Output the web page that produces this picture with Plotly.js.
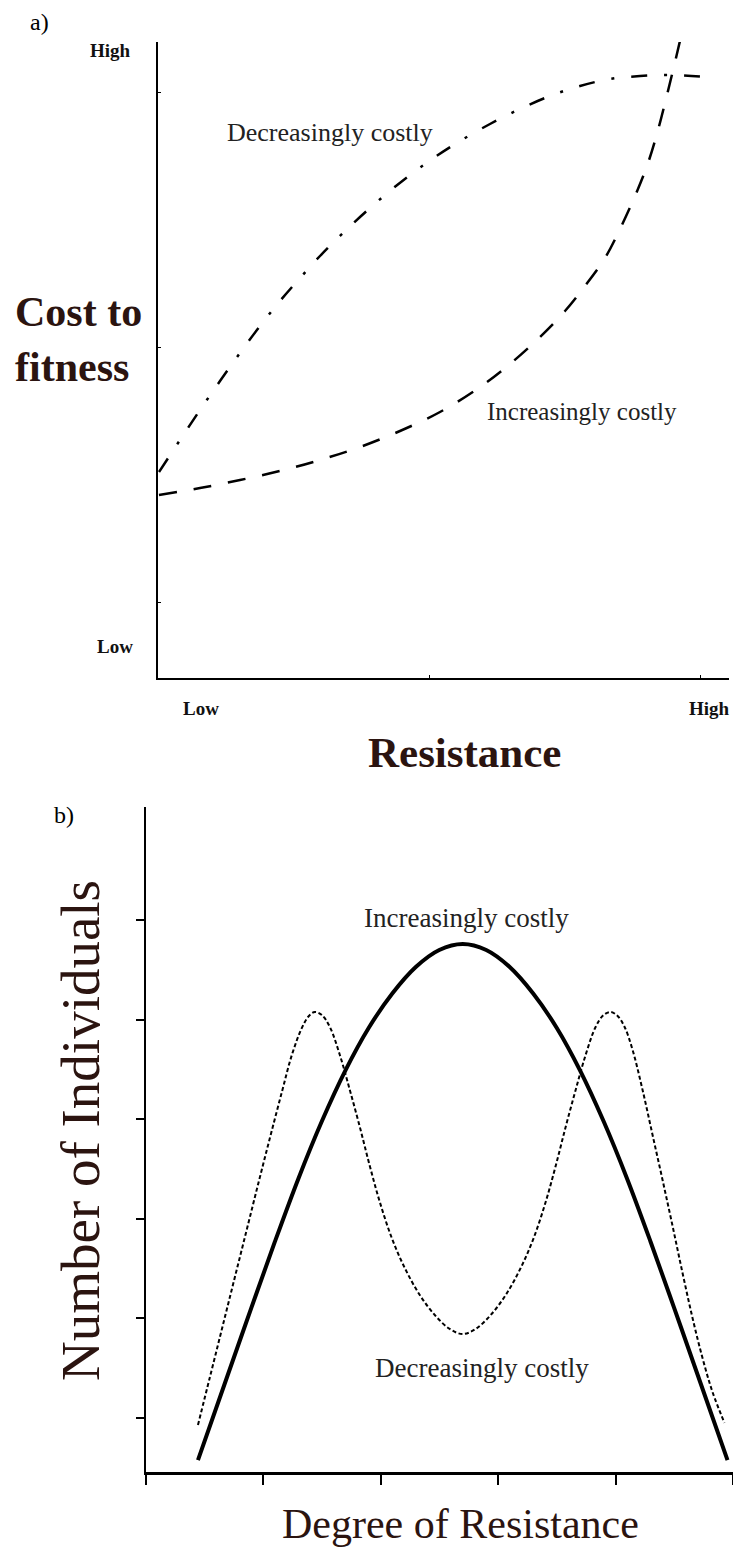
<!DOCTYPE html>
<html>
<head>
<meta charset="utf-8">
<script src="https://cdn.plot.ly/plotly-3.0.1.min.js"></script>
<style>
  html, body { margin: 0; padding: 0; background: #ffffff; }
  #chart { width: 733px; height: 1551px; }
</style>
</head>
<body>
<div id="chart"></div>
<script>
// ---------- Panel a: cost to fitness vs resistance (arbitrary units) ----------
const aDecX = [0.18, 4.06, 7.75, 11.44, 15.13, 18.82, 22.51, 26.20, 29.89, 33.58, 37.27, 41.88, 46.49, 51.11, 55.72, 61.25, 66.79, 72.32, 77.86, 83.39, 88.93, 94.46, 101.29];
const aDecY = [32.39, 37.42, 42.14, 46.70, 51.10, 55.35, 59.28, 62.89, 66.35, 69.50, 72.48, 75.94, 79.09, 81.92, 84.43, 87.11, 89.47, 91.51, 93.08, 94.18, 94.65, 94.81, 94.50];
const aIncX = [0.18, 7.75, 15.13, 22.51, 29.89, 37.27, 44.65, 52.03, 59.41, 64.94, 70.48, 75.09, 78.78, 82.47, 85.24, 88.01, 90.41, 92.25, 93.91, 95.39, 96.86];
const aIncY = [28.77, 29.87, 31.13, 32.55, 34.28, 36.32, 38.84, 41.82, 45.75, 49.37, 53.62, 57.70, 61.64, 66.04, 70.60, 75.79, 80.97, 86.16, 91.67, 96.86, 102.2];
const aXTicks = [0, 50, 100];
const aYTicks = [11.8, 52, 92];

// ---------- Panel b: number of individuals vs degree of resistance ----------
const bIncX = [0.4426, 0.6979, 0.8979, 1.0979, 1.2979, 1.4979, 1.6979, 1.8979, 2.0979, 2.2979, 2.4979, 2.6979, 2.8979, 3.0979, 3.2979, 3.4979, 3.6979, 3.8979, 4.0979, 4.2979, 4.4979, 4.6979, 4.9532];
const bIncY = [0.578, 1.437, 2.108, 2.770, 3.403, 3.979, 4.488, 4.918, 5.262, 5.528, 5.699, 5.759, 5.699, 5.528, 5.262, 4.918, 4.488, 3.979, 3.403, 2.770, 2.108, 1.437, 0.578];
const bDecX = [0.4426, 0.5447, 0.6468, 0.7489, 0.8511, 0.9532, 1.0553, 1.1574, 1.2426, 1.3277, 1.3872, 1.4383, 1.4979, 1.5660, 1.6511, 1.7362, 1.8213, 1.9064, 1.9915, 2.0936, 2.2043, 2.3319, 2.4596, 2.5872, 2.6979, 2.8085, 2.9362, 3.0638, 3.1915, 3.3021, 3.4043, 3.4894, 3.5745, 3.6596, 3.7447, 3.8298, 3.8979, 3.9574, 4.0170, 4.0766, 4.1447, 4.2298, 4.3149, 4.4000, 4.4851, 4.5702, 4.6553, 4.7404, 4.8255, 4.9277];
const bDecY = [0.930, 1.412, 1.894, 2.376, 2.857, 3.339, 3.811, 4.273, 4.645, 4.916, 5.036, 5.076, 5.046, 4.926, 4.645, 4.293, 3.922, 3.530, 3.169, 2.807, 2.506, 2.235, 2.034, 1.894, 1.843, 1.894, 2.034, 2.235, 2.506, 2.807, 3.169, 3.530, 3.922, 4.293, 4.645, 4.926, 5.046, 5.076, 5.036, 4.926, 4.695, 4.293, 3.841, 3.390, 2.928, 2.456, 2.004, 1.602, 1.261, 0.950];
const bXTicks = [0, 1, 2, 3, 4, 5];
const bYTicks = [1, 2, 3, 4, 5, 6];

const SERIF = '"Liberation Serif", "Times New Roman", serif';
const BROWN = '#2b1410';
const INK = '#222222';

const traces = [
  { x: aDecX, y: aDecY, xaxis: 'x', yaxis: 'y', mode: 'lines', name: 'Decreasingly costly',
    line: { color: '#000', width: 2.5, dash: '16px,17px,3px,17px', shape: 'spline', smoothing: 1, simplify: false }, hoverinfo: 'skip' },
  { x: aIncX, y: aIncY, xaxis: 'x', yaxis: 'y', mode: 'lines', name: 'Increasingly costly',
    line: { color: '#000', width: 2.5, dash: '18px,17px', shape: 'spline', smoothing: 1, simplify: false }, hoverinfo: 'skip' },
  { x: bIncX, y: bIncY, xaxis: 'x2', yaxis: 'y2', mode: 'lines', name: 'Increasingly costly',
    line: { color: '#000', width: 4, shape: 'spline', smoothing: 1, simplify: false }, hoverinfo: 'skip' },
  { x: bDecX, y: bDecY, xaxis: 'x2', yaxis: 'y2', mode: 'lines', name: 'Decreasingly costly',
    line: { color: '#000', width: 2, dash: '4px,2.5px', shape: 'spline', smoothing: 1, simplify: false }, hoverinfo: 'skip' }
];

const W = 733, H = 1551;
const px = v => v / W;
const py = v => 1 - v / H;

const axA = { showline: true, linecolor: '#000', linewidth: 2, ticks: 'inside', ticklen: 3, tickwidth: 1,
  tickcolor: '#000', showticklabels: false, showgrid: false, zeroline: false, fixedrange: true };
const axB = { showline: true, linecolor: '#000', linewidth: 2.5, ticks: 'outside', tickwidth: 2,
  tickcolor: '#000', showticklabels: false, showgrid: false, zeroline: false, fixedrange: true };

function ann(text, x, y, size, opts) {
  return Object.assign({ text: text, x: x, y: y, xref: 'paper', yref: 'paper', showarrow: false,
    xanchor: 'center', yanchor: 'middle', font: { family: SERIF, size: size, color: INK } }, opts || {});
}

const annotations = [
  ann('a)', px(39), py(22), 24, { font: { family: SERIF, size: 24, color: '#000' } }),
  ann('<b>High</b>', px(133), py(50), 19, { xanchor: 'right', font: { family: SERIF, size: 19, color: '#111' } }),
  ann('<b>Low</b>', px(135), py(647), 19, { xanchor: 'right', font: { family: SERIF, size: 19, color: '#111' } }),
  ann('<b>Low</b>', px(201), py(708), 19, { font: { family: SERIF, size: 19, color: '#111' } }),
  ann('<b>High</b>', px(709), py(708), 19, { font: { family: SERIF, size: 19, color: '#111' } }),
  ann('<b>Cost to<br>fitness</b>', px(13), py(340), 42, { xanchor: 'left', align: 'left', font: { family: SERIF, size: 42, color: BROWN } }),
  ann('<b>Resistance</b>', px(465), py(752), 43, { font: { family: SERIF, size: 43, color: BROWN } }),
  ann('Decreasingly costly', px(330), py(132), 26),
  ann('Increasingly costly', px(582), py(411), 25),
  ann('b)', px(64), py(815), 24, { font: { family: SERIF, size: 24, color: '#000' } }),
  ann('Number of Individuals', px(80), py(1131), 55, { textangle: -90, font: { family: SERIF, size: 55, color: BROWN } }),
  ann('Increasingly costly', px(466), py(918), 27),
  ann('Decreasingly costly', px(482), py(1368), 27),
  ann('Degree of Resistance', px(460), py(1524), 42, { font: { family: SERIF, size: 42, color: BROWN } })
];

const layout = {
  width: W, height: H,
  margin: { l: 0, r: 0, t: 0, b: 0 },
  paper_bgcolor: '#ffffff', plot_bgcolor: 'rgba(0,0,0,0)',
  showlegend: false,
  xaxis: Object.assign({}, axA, { domain: [px(158), px(729)], range: [0, 105.35], tickvals: aXTicks, anchor: 'y' }),
  yaxis: Object.assign({}, axA, { domain: [py(678), py(42)], range: [0, 100], tickvals: aYTicks, anchor: 'x' }),
  xaxis2: Object.assign({}, axB, { domain: [px(146), 1], range: [0, 5], tickvals: bXTicks, ticklen: 10, anchor: 'y2' }),
  yaxis2: Object.assign({}, axB, { domain: [py(1472), py(807)], range: [0.458, 7.134], tickvals: bYTicks, ticklen: 8, anchor: 'x2' }),
  annotations: annotations
};

Plotly.newPlot('chart', traces, layout, { staticPlot: true, displayModeBar: false });
</script>
</body>
</html>
